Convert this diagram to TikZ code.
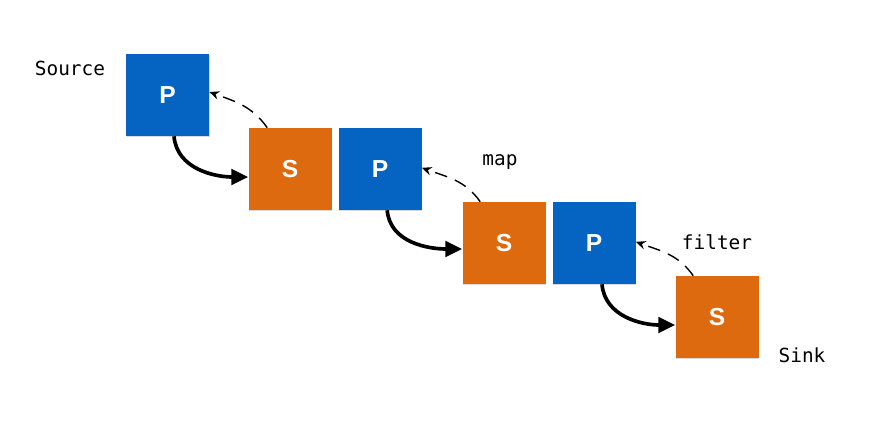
\documentclass[tikz,border=0pt]{standalone}
\usepackage{fontspec}
\setsansfont{Liberation Sans}
\setmonofont{DejaVu Sans Mono}
\usetikzlibrary{arrows.meta,shadows}
\definecolor{pblue}{RGB}{5,99,193}
\definecolor{sorange}{RGB}{222,106,16}

\begin{document}
\begin{tikzpicture}[
    box/.style={minimum width=2.075cm, minimum height=2.05cm, inner sep=0pt, text=white,
      font=\sffamily\bfseries\fontsize{17.5}{20}\selectfont,
      drop shadow={shadow xshift=0.7pt, shadow yshift=-0.7pt, opacity=0.3}},
    pbox/.style={box, fill=pblue},
    sbox/.style={box, fill=sorange},
    lbl/.style={font=\ttfamily\fontsize{13.8}{16}\selectfont},
    flow/.style={line width=2.6pt, -{Triangle[length=12pt,width=11pt]}},
    back/.style={line width=1pt, dash pattern=on 9pt off 6pt, -{Stealth[length=7pt,width=6pt]}}
  ]
    \useasboundingbox (0,0) rectangle (21.9,10.55);
    \node[pbox] (pa) at (4.19,8.175) {P};
    \node[sbox] (sa) at (7.25,6.325) {S};
    \node[pbox] (pb) at (9.5,6.325) {P};
    \node[sbox] (sb) at (12.6,4.475) {S};
    \node[pbox] (pc) at (14.85,4.475) {P};
    \node[sbox] (sc) at (17.925,2.625) {S};
    \node[lbl] (src) at (1.75,8.85) {Source};
    \node[lbl] (mp) at (12.5,6.5) {map};
    \node[lbl] (flt) at (17.925,4.5) {filter};
    \node[lbl] (snk) at (20.05,1.675) {Sink};
    \draw[flow] ([xshift=0.16cm]pa.south) to[out=-85,in=180] ([yshift=-0.2cm]sa.west);
    \draw[flow] ([xshift=0.18cm]pb.south) to[out=-85,in=180] ([yshift=-0.15cm]sb.west);
    \draw[flow] ([xshift=0.2cm]pc.south) to[out=-85,in=180] ([yshift=-0.2cm]sc.west);
    \draw[back] ([xshift=0.475cm]sa.north west) to[out=125,in=-20] ([yshift=0.075cm]pa.east);
    \draw[back] ([xshift=0.45cm]sb.north west) to[out=125,in=-20] ([yshift=0.03cm]pb.east);
    \draw[back] ([xshift=0.45cm]sc.north west) to[out=125,in=-20] ([yshift=0.03cm]pc.east);
  \end{tikzpicture}
\end{document}
